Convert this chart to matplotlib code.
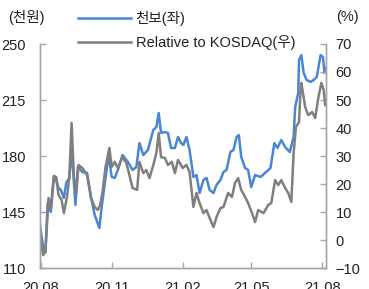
import matplotlib
matplotlib.use("Agg")
import matplotlib.pyplot as plt
import pandas as pd

plt.rcParams["font.family"] = ["Liberation Sans", "Noto Sans CJK KR", "DejaVu Sans"]
plt.rcParams["axes.unicode_minus"] = True

# 천보 주가 (천원, 좌축)
blue_dates = [
    "2020-07-31", "2020-08-04", "2020-08-07", "2020-08-10", "2020-08-14", "2020-08-18",
    "2020-08-21", "2020-08-24", "2020-08-27", "2020-08-31", "2020-09-03", "2020-09-07",
    "2020-09-10", "2020-09-11", "2020-09-15", "2020-09-18", "2020-09-24", "2020-09-30",
    "2020-10-03", "2020-10-06", "2020-10-10", "2020-10-16", "2020-10-19", "2020-10-24",
    "2020-10-28", "2020-11-01", "2020-11-05", "2020-11-09", "2020-11-15", "2020-11-22",
    "2020-11-28", "2020-12-03", "2020-12-07", "2020-12-12", "2020-12-18", "2020-12-25",
    "2020-12-29", "2021-01-01", "2021-01-04", "2021-01-09", "2021-01-13", "2021-01-17",
    "2021-01-22", "2021-01-26", "2021-01-30", "2021-02-02", "2021-02-06", "2021-02-10",
    "2021-02-15", "2021-02-19", "2021-02-23", "2021-02-28", "2021-03-04", "2021-03-08",
    "2021-03-13", "2021-03-17", "2021-03-22", "2021-03-26", "2021-03-30", "2021-04-04",
    "2021-04-08", "2021-04-12", "2021-04-15", "2021-04-18", "2021-04-23", "2021-04-27",
    "2021-05-01", "2021-05-06", "2021-05-13", "2021-05-19", "2021-05-26", "2021-05-31",
    "2021-06-04", "2021-06-09", "2021-06-14", "2021-06-20", "2021-06-25", "2021-06-27",
    "2021-07-01", "2021-07-02", "2021-07-05", "2021-07-08", "2021-07-12", "2021-07-17",
    "2021-07-21", "2021-07-25", "2021-07-30", "2021-08-02", "2021-08-04", "2021-08-06",
]
blue_vals = [
    136.9, 123.1, 120.0, 150.6, 145.0, 166.9,
    165.0, 160.0, 158.8, 153.8, 163.1, 166.3,
    183.8, 177.5, 149.4, 173.1, 170.0, 169.4,
    160.6, 152.5, 143.1, 135.0, 148.1, 166.3,
    180.6, 166.9, 166.3, 171.3, 180.6, 176.3,
    171.3, 173.1, 188.1, 180.6, 183.8, 196.3,
    198.1, 206.9, 194.4, 195.0, 194.4, 185.0,
    185.0, 191.9, 188.1, 186.9, 191.9, 183.8,
    166.9, 168.1, 156.9, 165.0, 166.3, 158.8,
    156.9, 161.9, 165.0, 170.0, 171.3, 182.5,
    183.8, 191.9, 193.1, 179.4, 172.5, 171.3,
    160.6, 168.1, 166.9, 169.4, 172.5, 188.1,
    185.0, 190.0, 185.6, 182.5, 191.9, 210.6,
    219.4, 240.0, 243.1, 231.9, 227.5, 226.3,
    227.5, 229.4, 243.1, 241.9, 231.9, 235.0,
]

# KOSDAQ 대비 상대수익률 (%, 우축)
gray_dates = [
    "2020-07-31", "2020-08-04", "2020-08-07", "2020-08-11", "2020-08-14", "2020-08-18",
    "2020-08-21", "2020-08-24", "2020-08-28", "2020-08-31", "2020-09-04", "2020-09-07",
    "2020-09-10", "2020-09-13", "2020-09-16", "2020-09-19", "2020-09-24", "2020-09-30",
    "2020-10-03", "2020-10-05", "2020-10-10", "2020-10-14", "2020-10-17", "2020-10-20",
    "2020-10-24", "2020-10-29", "2020-11-01", "2020-11-05", "2020-11-09", "2020-11-15",
    "2020-11-20", "2020-11-24", "2020-11-28", "2020-12-04", "2020-12-07", "2020-12-12",
    "2020-12-16", "2020-12-20", "2020-12-25", "2020-12-29", "2021-01-01", "2021-01-04",
    "2021-01-09", "2021-01-13", "2021-01-18", "2021-01-22", "2021-01-26", "2021-02-01",
    "2021-02-06", "2021-02-10", "2021-02-15", "2021-02-19", "2021-02-23", "2021-02-28",
    "2021-03-04", "2021-03-08", "2021-03-13", "2021-03-17", "2021-03-22", "2021-03-26",
    "2021-04-01", "2021-04-06", "2021-04-10", "2021-04-14", "2021-04-18", "2021-04-23",
    "2021-04-27", "2021-05-03", "2021-05-06", "2021-05-10", "2021-05-17", "2021-05-23",
    "2021-05-27", "2021-06-01", "2021-06-05", "2021-06-09", "2021-06-14", "2021-06-18",
    "2021-06-22", "2021-06-25", "2021-06-28", "2021-07-02", "2021-07-04", "2021-07-05",
    "2021-07-10", "2021-07-14", "2021-07-19", "2021-07-23", "2021-07-27", "2021-07-31",
    "2021-08-03", "2021-08-05",
]
gray_vals = [
    2.5, -5.4, -4.3, 15.0, 11.4, 22.9,
    22.5, 16.1, 14.3, 9.6, 15.4, 22.5,
    41.8, 22.5, 16.8, 26.8, 25.7, 23.2,
    18.6, 15.0, 11.8, 10.7, 12.5, 16.8,
    26.1, 32.9, 26.1, 27.9, 25.7, 29.6,
    27.5, 23.2, 18.6, 17.9, 27.9, 23.9,
    25.0, 22.1, 26.8, 31.1, 38.2, 29.6,
    29.3, 26.8, 27.9, 23.9, 28.6, 25.7,
    26.8, 24.3, 11.8, 16.8, 13.2, 9.6,
    10.7, 7.9, 4.6, 8.2, 11.4, 11.8,
    16.8, 15.4, 20.4, 22.1, 17.9, 15.4,
    13.2, 8.9, 6.4, 10.7, 9.6, 12.5,
    13.2, 21.4, 19.6, 21.4, 18.6, 16.8,
    13.6, 31.1, 40.4, 42.1, 53.6, 56.1,
    47.5, 44.6, 45.7, 43.6, 50.7, 56.1,
    53.6, 48.2,
]

left_ticks = [110, 145, 180, 215, 250]
right_ticks = [-10, 0, 10, 20, 30, 40, 50, 60, 70]
x_ticks = ["2020-08-01", "2020-11-01", "2021-02-01", "2021-05-01", "2021-08-01"]
x_labels = ["20.08", "20.11", "21.02", "21.05", "21.08"]

BLUE = "#4a86d6"
GRAY = "#7f7f7f"
AXIS = "#a6a6a6"
TEXT = "#222222"
FS = 10.5

fig = plt.figure(figsize=(3.69, 2.89), dpi=100)
ax = fig.add_axes([40 / 369, 1 - 268 / 289, 286 / 369, 224 / 289])
ax2 = ax.twinx()

l1, = ax.plot(pd.to_datetime(blue_dates), blue_vals, color=BLUE, lw=1.8, label="천보(좌)")
l2, = ax2.plot(pd.to_datetime(gray_dates), gray_vals, color=GRAY, lw=1.8, label="Relative to KOSDAQ(우)")

ax.set_xlim(pd.Timestamp("2020-07-31"), pd.Timestamp("2021-08-06"))
ax.set_ylim(110, 250)
ax2.set_ylim(-10, 70)
ax.set_yticks(left_ticks)
ax2.set_yticks(right_ticks)
ax.set_xticks(pd.to_datetime(x_ticks))
ax.set_xticklabels(x_labels)

for a in (ax, ax2):
    a.spines["top"].set_visible(False)
    for s in a.spines.values():
        s.set_color(AXIS)
        s.set_linewidth(1.0)
    a.tick_params(direction="in", length=4, width=1, color=AXIS,
                  labelsize=FS, labelcolor=TEXT)
ax.tick_params(axis="y", pad=10)
ax.tick_params(axis="x", pad=9)
ax2.tick_params(axis="y", pad=7)

fig.text(8 / 369, 1 - 17 / 289, "(천원)", fontsize=FS, color=TEXT, va="center", ha="left")
fig.text(336 / 369, 1 - 17 / 289, "(%)", fontsize=FS, color=TEXT, va="center", ha="left")

fig.legend(handles=[l1, l2], loc="upper left", bbox_to_anchor=(78 / 369, 1 - 11 / 289),
           frameon=False, fontsize=FS, handlelength=3.6, handletextpad=0.35,
           labelspacing=0.62, borderpad=0, borderaxespad=0, labelcolor=TEXT)

fig.savefig("out.png", dpi=100)
